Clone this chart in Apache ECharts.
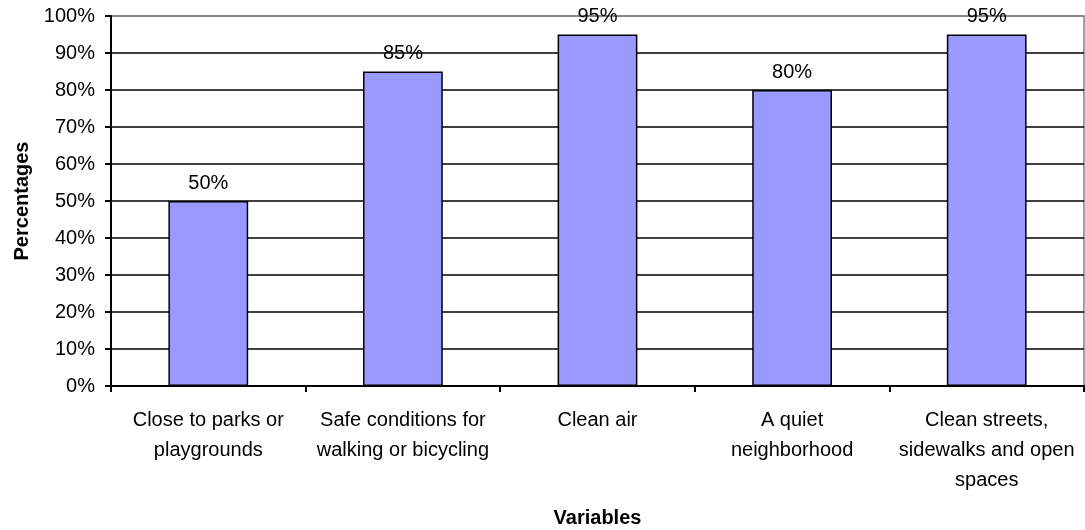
<!DOCTYPE html>
<html>
<head>
<meta charset="utf-8">
<script src="https://cdn.jsdelivr.net/npm/echarts@6/dist/echarts.min.js"></script>
<style>
  html, body { margin: 0; padding: 0; background: #fff; }
  #chart { width: 1085px; height: 530px; }
</style>
</head>
<body>
<div id="chart"></div>
<script>
// Share of respondents rating each neighbourhood feature as important
const categories = [
  'Close to parks or\nplaygrounds',
  'Safe conditions for\nwalking or bicycling',
  'Clean air',
  'A quiet\nneighborhood',
  'Clean streets,\nsidewalks and open\nspaces'
];
const percentages = [50, 85, 95, 80, 95];
const yTicks = [0, 10, 20, 30, 40, 50, 60, 70, 80, 90, 100];

const font = 'Arial, "Liberation Sans", sans-serif';

// Black gridlines, with the top one left in the grey of the plot frame
const gridColors = yTicks.map((v, i) => (i === yTicks.length - 1 ? '#808080' : '#000000'));

const chart = echarts.init(document.getElementById('chart'), null, { renderer: 'canvas' });
chart.setOption({
  animation: false,
  backgroundColor: '#ffffff',
  grid: {
    left: 111, right: 1, top: 16, bottom: 144,
    show: true, borderColor: '#808080', borderWidth: 1.5,
    containLabel: false,
    outerBoundsMode: 'none'
  },
  xAxis: {
    type: 'category',
    data: categories,
    name: 'Variables',
    nameLocation: 'middle',
    nameGap: 122,
    nameTextStyle: { fontFamily: font, fontSize: 20, fontWeight: 'bold', color: '#000' },
    axisLine: { show: true, lineStyle: { color: '#000', width: 2 } },
    axisTick: { show: true, length: 6, lineStyle: { color: '#000', width: 2 } },
    axisLabel: {
      fontFamily: font, fontSize: 20, color: '#000',
      margin: 19, lineHeight: 30, interval: 0
    },
    splitLine: { show: false }
  },
  yAxis: {
    type: 'value',
    min: yTicks[0],
    max: yTicks[yTicks.length - 1],
    interval: yTicks[1] - yTicks[0],
    name: 'Percentages',
    nameLocation: 'middle',
    nameRotate: 90,
    nameGap: 78,
    nameTextStyle: { fontFamily: font, fontSize: 20, fontWeight: 'bold', color: '#000' },
    axisLine: { show: true, lineStyle: { color: '#000', width: 2 } },
    axisTick: { show: true, length: 6, lineStyle: { color: '#000', width: 2 } },
    axisLabel: {
      fontFamily: font, fontSize: 20, color: '#000', margin: 16,
      formatter: v => v + '%'
    },
    splitLine: { show: true, lineStyle: { color: gridColors, width: 1.5 } }
  },
  series: [{
    type: 'bar',
    data: percentages,
    barWidth: '41%',
    itemStyle: { color: '#9999FF', borderColor: '#000', borderWidth: 1.5 },
    label: {
      show: true, position: 'top', distance: 8,
      fontFamily: font, fontSize: 20, color: '#000',
      formatter: p => p.value + '%'
    }
  }]
});
</script>
</body>
</html>
